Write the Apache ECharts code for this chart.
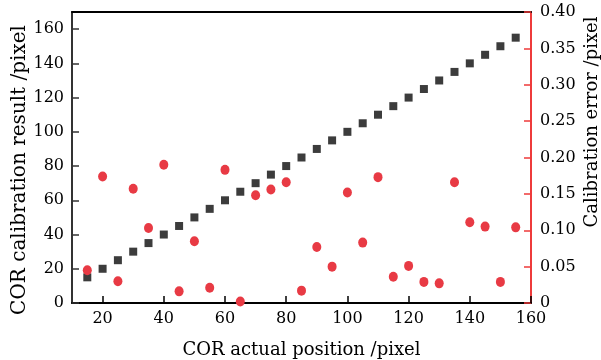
<!DOCTYPE html>
<html>
<head>
<meta charset="utf-8">
<script src="https://cdn.jsdelivr.net/npm/echarts@6/dist/echarts.min.js"></script>
<style>
html, body { margin: 0; padding: 0; background: #fff; }
#myChart { width: 601px; height: 360px; }
</style>
</head>
<body>
<div id="myChart"></div>
<script>
// COR actual position (pixel)
var positions = [15, 20, 25, 30, 35, 40, 45, 50, 55, 60, 65, 70, 75, 80, 85,
	90, 95, 100, 105, 110, 115, 120, 125, 130, 135, 140, 145, 150, 155];
// calibration result (pixel), left axis
var calibResult = [15, 20, 25, 30, 35, 40, 45, 50, 55, 60, 65, 70, 75, 80, 85,
	90, 95, 100, 105, 110, 115, 120, 125, 130, 135, 140, 145, 150, 155];
// calibration error (pixel), right axis
var calibError = [0.045, 0.174, 0.030, 0.157, 0.103, 0.190, 0.016, 0.085, 0.021, 0.183,
	0.002, 0.148, 0.156, 0.166, 0.017, 0.077, 0.050, 0.152, 0.083, 0.173,
	0.036, 0.051, 0.029, 0.027, 0.166, 0.111, 0.105, 0.029, 0.104];
var xTicks = [20, 40, 60, 80, 100, 120, 140, 160];
var leftTicks = [0, 20, 40, 60, 80, 100, 120, 140, 160];

var serif = 'DejaVu Serif';

function pairs(xs, ys) {
	var out = [];
	for (var i = 0; i < xs.length; i++) out.push([xs[i], ys[i]]);
	return out;
}

var option = {
	animation: false,
	grid: { left: 72, right: 70, top: 12, bottom: 57, outerBoundsMode: 'none' },
	xAxis: [{
		type: 'value',
		min: 10,
		max: 160,
		name: 'COR actual position /pixel',
		nameLocation: 'middle',
		nameGap: 38,
		nameTextStyle: { fontFamily: serif, fontSize: 18, color: '#000' },
		axisLine: { onZero: false, lineStyle: { color: '#000', width: 2 } },
		axisTick: { inside: true, length: 7, customValues: xTicks, lineStyle: { color: '#000', width: 1.5 } },
		axisLabel: { customValues: xTicks, margin: 8, fontFamily: serif, fontSize: 16, color: '#000' },
		splitLine: { show: false }
	}, {
		// top edge of the frame
		type: 'value',
		position: 'top',
		min: 10,
		max: 160,
		axisLine: { show: true, onZero: false, lineStyle: { color: '#000', width: 2 } },
		axisTick: { show: false },
		axisLabel: { show: false },
		splitLine: { show: false }
	}],
	yAxis: [{
		type: 'value',
		min: 0,
		max: 170,
		axisLine: { show: true, onZero: false, lineStyle: { color: '#333', width: 2 } },
		axisTick: { show: true, inside: true, length: 7, customValues: leftTicks, lineStyle: { color: '#333', width: 1.5 } },
		axisLabel: { customValues: leftTicks, margin: 8, fontFamily: serif, fontSize: 16, color: '#000' },
		splitLine: { show: false }
	}, {
		type: 'value',
		position: 'right',
		min: 0,
		max: 0.4,
		interval: 0.05,
		axisLine: { show: true, onZero: false, lineStyle: { color: '#ee3b3b', width: 2 } },
		axisTick: { show: true, inside: true, length: 7, lineStyle: { color: '#ee3b3b', width: 1.5 } },
		axisLabel: {
			margin: 9, fontFamily: serif, fontSize: 16, color: '#000',
			formatter: function (v) { return v === 0 ? '0' : v.toFixed(2); }
		},
		splitLine: { show: false }
	}],
	graphic: [{
		type: 'text',
		x: 20, y: 170,
		rotation: Math.PI / 2,
		style: {
			text: 'COR calibration result /pixel',
			font: '20px "DejaVu Serif"',
			fill: '#000',
			textAlign: 'center',
			textVerticalAlign: 'middle'
		}
	}, {
		type: 'text',
		x: 592, y: 122,
		rotation: Math.PI / 2,
		style: {
			text: 'Calibration error /pixel',
			font: '18px "DejaVu Serif"',
			fill: '#000',
			textAlign: 'center',
			textVerticalAlign: 'middle'
		}
	}],
	series: [{
		type: 'scatter',
		xAxisIndex: 0,
		yAxisIndex: 0,
		symbol: 'rect',
		symbolSize: 8,
		itemStyle: { color: '#3c3c3c', opacity: 1 },
		data: pairs(positions, calibResult)
	}, {
		type: 'scatter',
		xAxisIndex: 0,
		yAxisIndex: 1,
		symbol: 'circle',
		symbolSize: [9, 10],
		itemStyle: { color: '#e83a44', opacity: 1 },
		data: pairs(positions, calibError)
	}]
};

var myChart = echarts.init(document.getElementById('myChart'));
myChart.setOption(option);
</script>
</body>
</html>
